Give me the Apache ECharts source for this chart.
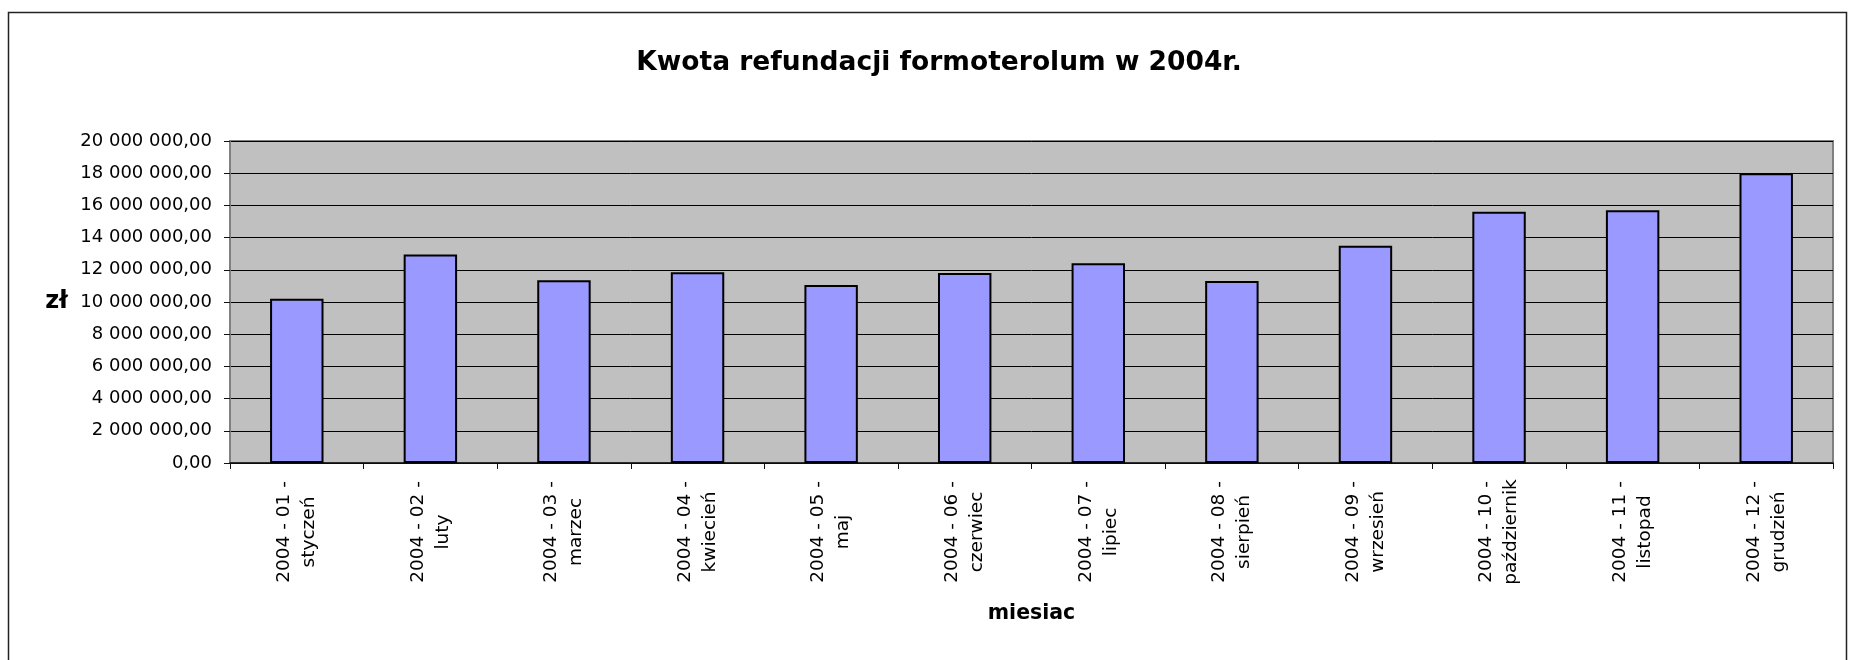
<!DOCTYPE html>
<html>
<head>
<meta charset="utf-8">
<title>Kwota refundacji formoterolum w 2004r.</title>
<script src="https://cdn.jsdelivr.net/npm/echarts@6/dist/echarts.min.js"></script>
<style>
    html, body { margin: 0; padding: 0; background: #fff; }
    #main { width: 1849px; height: 660px; }
</style>
</head>
<body>
<!-- wykres słupkowy: refundacja formoterolum, 2004 -->
<div id="main"></div>
<script>
    // dane
    var months = [
        '2004 - 01 -\nstyczeń', '2004 - 02 -\nluty', '2004 - 03 -\nmarzec',
        '2004 - 04 -\nkwiecień', '2004 - 05 -\nmaj', '2004 - 06 -\nczerwiec',
        '2004 - 07 -\nlipiec', '2004 - 08 -\nsierpień', '2004 - 09 -\nwrzesień',
        '2004 - 10 -\npaździernik', '2004 - 11 -\nlistopad', '2004 - 12 -\ngrudzień'
    ];
    var amounts = [
        10200000, 12950000, 11350000, 11850000, 11050000, 11800000,
        12400000, 11300000, 13500000, 15600000, 15700000, 18000000
    ];
    var yMin = 0;
    var yMax = 20000000;
    var yStep = 2000000;

    var font = '"DejaVu Sans", "Liberation Sans", sans-serif';

    function plnFormat(v) {
        // 12000000 -> "12 000 000,00"
        return String(Math.round(v)).replace(/\B(?=(\d{3})+(?!\d))/g, ' ') + ',00';
    }

    var myChart = echarts.init(document.getElementById('main'));
    var options = {
        backgroundColor: '#ffffff',
        animation: false,
        title: {
            text: 'Kwota refundacji formoterolum w 2004r.',
            left: 934,
            top: 45,
            textAlign: 'center',
            textStyle: { fontFamily: font, fontSize: 26.5, fontWeight: 'bold', color: '#000' }
        },
        graphic: [{
            type: 'rect',
            shape: { x: 8.5, y: 12.5, width: 1838, height: 700 },
            style: { fill: 'none', stroke: '#222', lineWidth: 1.5 },
            silent: true
        }],
        grid: {
            left: 230,
            right: 16,
            top: 141,
            bottom: 197,
            show: true,
            backgroundColor: '#C0C0C0',
            borderColor: '#808080',
            borderWidth: 2,
            containLabel: false
        },
        xAxis: {
            type: 'category',
            data: months,
            name: 'miesiac',
            nameLocation: 'middle',
            nameGap: 140,
            nameTextStyle: { fontFamily: font, fontSize: 20.5, fontWeight: 'bold', color: '#000', verticalAlign: 'top' },
            axisLine: { lineStyle: { color: '#111', width: 1.5 } },
            axisTick: { show: true, length: 6, lineStyle: { color: '#111', width: 1 } },
            axisLabel: {
                interval: 0,
                rotate: 90,
                align: 'center',
                margin: 69,
                lineHeight: 25,
                padding: [0, 0, 8, 0],
                fontFamily: font,
                fontSize: 18.5,
                color: '#000'
            },
            splitLine: { show: false }
        },
        yAxis: {
            type: 'value',
            min: yMin,
            max: yMax,
            interval: yStep,
            name: 'zł',
            nameLocation: 'middle',
            nameRotate: 0,
            nameGap: 162,
            nameTextStyle: { fontFamily: font, fontSize: 24, fontWeight: 'bold', color: '#000' },
            axisLine: { show: true, lineStyle: { color: '#808080', width: 2 } },
            axisTick: { show: true, length: 6, lineStyle: { color: '#111', width: 1 } },
            axisLabel: {
                margin: 18,
                fontFamily: font,
                fontSize: 18,
                color: '#000',
                formatter: plnFormat
            },
            splitLine: { show: true, lineStyle: { color: '#000', width: 1 } }
        },
        series: [{
            name: 'Kwota refundacji',
            type: 'bar',
            data: amounts,
            barWidth: '40%',
            itemStyle: { color: '#9999FF', borderColor: '#000', borderWidth: 2 }
        }]
    };
    myChart.setOption(options);
    window.onresize = function () {
        myChart.resize();
    };
</script>
</body>
</html>
